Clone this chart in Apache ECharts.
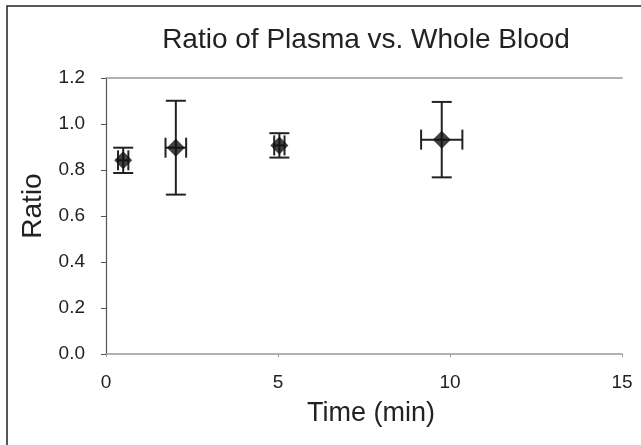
<!DOCTYPE html>
<html>
<head>
<meta charset="utf-8">
<script src="https://cdn.jsdelivr.net/npm/echarts@6/dist/echarts.min.js"></script>
<style>html,body{margin:0;padding:0;background:#fff}#c{width:641px;height:445px}</style>
</head>
<body>
<div id="c"></div>
<script>
const timeMin = [0.5, 2.03, 5.04, 9.76];
const ratio = [0.842, 0.897, 0.907, 0.932];
const ratioErr = [0.055, 0.204, 0.053, 0.164];
const timeErr = [0.15, 0.30, 0.15, 0.60];
const xTicks = [0, 5, 10, 15];
const yTicks = [0.0, 0.2, 0.4, 0.6, 0.8, 1.0, 1.2];

const pts = timeMin.map((t, i) => [t, ratio[i]]);
const errData = timeMin.map((t, i) => [t, ratio[i], ratioErr[i], timeErr[i]]);

const chart = echarts.init(document.getElementById('c'), null, {renderer: 'canvas'});
const FONT = 'Liberation Sans, Arial, sans-serif';
chart.setOption({
  animation: false,
  backgroundColor: '#fff',
  title: {
    text: 'Ratio of Plasma vs. Whole Blood',
    left: 361, top: 21, textAlign: 'center',
    textStyle: {fontFamily: FONT, fontSize: 28, fontWeight: 'normal', color: '#222'}
  },
  graphic: [{
    type: 'rect', silent: true, z: 100,
    shape: {x: 7, y: 6, width: 700, height: 500},
    style: {fill: 'none', stroke: '#222', lineWidth: 1.5}
  }],
  grid: {left: 106, right: 19, top: 78, bottom: 91},
  xAxis: [{
    type: 'value', min: 0, max: 15, interval: 5,
    name: 'Time (min)', nameLocation: 'middle', nameGap: 46,
    nameTextStyle: {fontFamily: FONT, fontSize: 27, color: '#222', padding: [0, 0, 0, 14]},
    axisLine: {lineStyle: {color: '#999', width: 1.5}},
    axisTick: {show: true, length: 3, lineStyle: {color: '#999'}},
    splitLine: {show: false},
    axisLabel: {fontFamily: FONT, fontSize: 19, color: '#222', margin: 19,
      formatter: v => xTicks.includes(v) ? String(v) : ''}
  }, {
    type: 'value', position: 'top', min: 0, max: 15,
    axisLine: {show: true, lineStyle: {color: '#999', width: 1.5}},
    axisTick: {show: false}, axisLabel: {show: false}, splitLine: {show: false}
  }],
  yAxis: {
    type: 'value', min: 0, max: 1.2, interval: 0.2,
    name: 'Ratio', nameLocation: 'middle', nameGap: 58,
    nameTextStyle: {fontFamily: FONT, fontSize: 28, color: '#222', padding: [0, 0, 0, 20]},
    axisLine: {show: true, lineStyle: {color: '#555', width: 1.2}},
    axisTick: {show: true, length: 5, lineStyle: {color: '#555'}},
    splitLine: {show: false},
    axisLabel: {fontFamily: FONT, fontSize: 19, color: '#222', margin: 21,
      formatter: v => {
        const m = yTicks.find(t => Math.abs(t - v) < 1e-9);
        return m === undefined ? '' : m.toFixed(1);
      }}
  },
  series: [{
    type: 'custom',
    data: errData,
    z: 2,
    renderItem: function (params, api) {
      const x = api.value(0), y = api.value(1), ey = api.value(2), ex = api.value(3);
      const top = api.coord([x, y + ey]);
      const bot = api.coord([x, y - ey]);
      const lft = api.coord([x - ex, y]);
      const rgt = api.coord([x + ex, y]);
      const cap = 10;
      const st = {stroke: '#222', lineWidth: 2};
      return {
        type: 'group',
        children: [
          {type: 'line', shape: {x1: top[0], y1: top[1], x2: bot[0], y2: bot[1]}, style: st},
          {type: 'line', shape: {x1: top[0] - cap, y1: top[1], x2: top[0] + cap, y2: top[1]}, style: st},
          {type: 'line', shape: {x1: bot[0] - cap, y1: bot[1], x2: bot[0] + cap, y2: bot[1]}, style: st},
          {type: 'line', shape: {x1: lft[0], y1: lft[1], x2: rgt[0], y2: rgt[1]}, style: st},
          {type: 'line', shape: {x1: lft[0], y1: lft[1] - cap, x2: lft[0], y2: lft[1] + cap}, style: st},
          {type: 'line', shape: {x1: rgt[0], y1: rgt[1] - cap, x2: rgt[0], y2: rgt[1] + cap}, style: st}
        ]
      };
    }
  }, {
    type: 'scatter',
    data: pts,
    symbol: 'diamond',
    symbolSize: 18,
    z: 3,
    itemStyle: {color: '#111'}
  }]
});
</script>
</body>
</html>
